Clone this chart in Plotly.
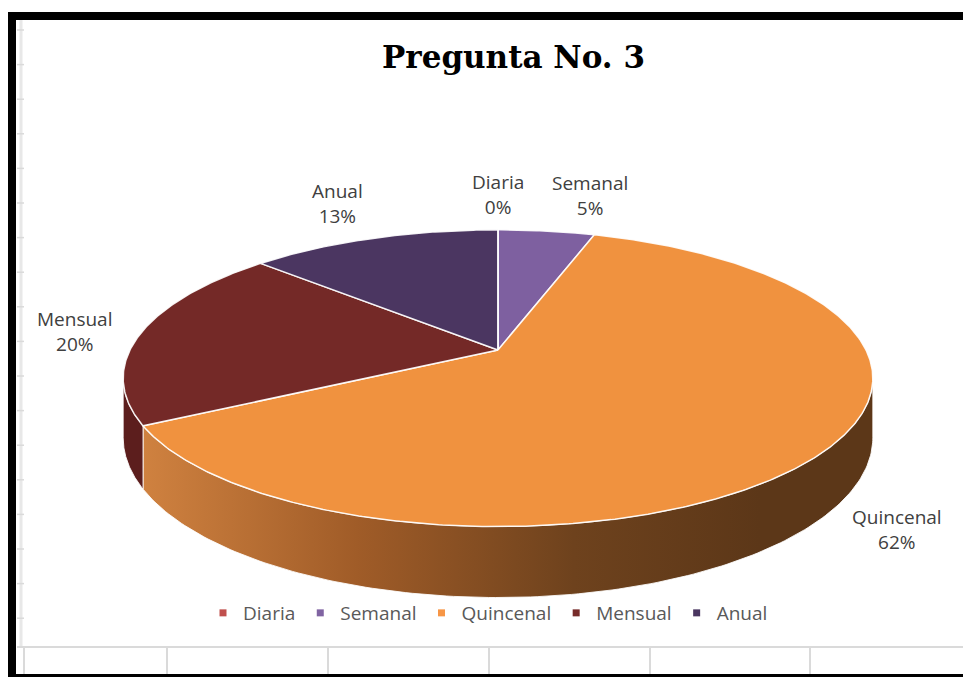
import numpy as np
import plotly.graph_objects as go

# ---------------- data ----------------
title_text = "Pregunta No. 3"
categories = ["Diaria", "Semanal", "Quincenal", "Mensual", "Anual"]
percent = [0, 5, 62, 20, 13]

# ---------------- styles ----------------
top_colors = ["#C0504D", "#7E60A0", "#F0923F", "#742927", "#4B3661"]
legend_colors = ["#C0504D", "#8064A2", "#F79646", "#772C2A", "#4A3660"]
wall_colors = ["#8F3B39", "#5E4878", "#B06A30", "#5C1E1D", "#382848"]
wall_gradient = {2: [[0, "#D08240"], [0.35, "#A05C28"], [0.7, "#6E421D"], [1, "#5C3718"]]}

W, H = 963, 677
X0, Y0 = 498, 350          # pie centre (px)
A, B, K, D = 143, 368, 0.19, 57.5   # vertical radius, horizontal radius, perspective, depth


def proj(theta_deg, r=1.0, depth=0.0):
    t = np.radians(theta_deg)
    u = r * np.sin(t)
    v = r * np.cos(t)
    s = 1 + K * v
    return X0 + B * u / s, Y0 - A * v / s + D * depth / s


total = float(sum(percent))
cum = np.concatenate([[0.0], np.cumsum(percent)]) / total * 360.0

fig = go.Figure()

# side walls (visible front part only)
th_r = np.degrees(np.arccos(-K))
th_l = 360.0 - th_r
for i, cat in enumerate(categories):
    a0, a1 = cum[i], cum[i + 1]
    lo, hi = max(a0, th_r), min(a1, th_l)
    if hi <= lo:
        continue
    ts = np.linspace(lo, hi, 160)
    xt, yt = proj(ts)
    xb, yb = proj(ts[::-1], depth=1.0)
    xs = np.concatenate([xt, xb, xt[:1]])
    ys = np.concatenate([yt, yb, yt[:1]])
    kw = dict(fill="toself", fillcolor=wall_colors[i])
    if i in wall_gradient:
        kw = dict(fill="toself",
                  fillgradient=dict(type="horizontal", colorscale=wall_gradient[i],
                                    start=140, stop=760))
    fig.add_trace(go.Scatter(x=xs, y=ys, mode="lines",
                             line=dict(color="rgba(255,255,255,0.85)", width=1),
                             hoverinfo="skip", showlegend=False, **kw))

# top faces
for i, cat in enumerate(categories):
    a0, a1 = cum[i], cum[i + 1]
    if a1 - a0 <= 0:
        continue
    ts = np.linspace(a0, a1, max(int((a1 - a0) * 2), 8))
    xa, ya = proj(ts)
    xs = np.concatenate([[X0], xa, [X0]])
    ys = np.concatenate([[Y0], ya, [Y0]])
    fig.add_trace(go.Scatter(x=xs, y=ys, mode="lines", fill="toself",
                             fillcolor=top_colors[i],
                             line=dict(color="rgba(255,255,255,0.9)", width=1.5),
                             hoverinfo="skip", showlegend=False))

# zero-size slice boundary line (12 o'clock)
xz, yz = proj(np.array([0.0]))
fig.add_trace(go.Scatter(x=[X0, xz[0]], y=[Y0, yz[0]], mode="lines",
                         line=dict(color="white", width=1.5),
                         hoverinfo="skip", showlegend=False))

# legend entries
for i, cat in enumerate(categories):
    fig.add_trace(go.Scatter(x=[None], y=[None], mode="markers", name=cat,
                             marker=dict(symbol="square", size=7, color=legend_colors[i])))

# data labels
annotations = []
for i, cat in enumerate(categories):
    mid = (cum[i] + cum[i + 1]) / 2.0
    t = np.radians(mid)
    u, v = np.sin(t), np.cos(t)
    x, y = proj(np.array([mid]), r=1.08, depth=(1.0 if v < 0 else 0.0))
    xanchor = "center" if abs(u) < 0.1 else ("left" if u > 0 else "right")
    yanchor = "bottom" if v > 0.5 else ("top" if v < -0.8 else "middle")
    annotations.append(dict(x=float(x[0]), y=float(y[0]), xref="x", yref="y",
                            text=f"{cat}<br>{percent[i]}%", showarrow=False,
                            xanchor=xanchor, yanchor=yanchor, align="center",
                            font=dict(family="Open Sans", size=19, color="#404040")))

# sheet frame / grid decorations
shapes = []
grid = "#DADADA"
shapes.append(dict(type="line", x0=21, x1=21, y0=20, y1=647, xref="x", yref="y",
                   line=dict(color="#E8E8E8", width=3)))
for yy in np.arange(30, 647, 34.6):
    shapes.append(dict(type="line", x0=17, x1=24, y0=yy, y1=yy, xref="x", yref="y",
                       line=dict(color=grid, width=1.5)))
shapes.append(dict(type="line", x0=17, x1=W, y0=647, y1=647, xref="x", yref="y",
                   line=dict(color=grid, width=2)))
for xx in [24, 167, 328, 489, 650, 810]:
    shapes.append(dict(type="line", x0=xx, x1=xx, y0=647, y1=675, xref="x", yref="y",
                       line=dict(color=grid, width=2)))
shapes.append(dict(type="rect", x0=8, x1=16, y0=12, y1=H, xref="x", yref="y",
                   fillcolor="black", line=dict(width=0)))
shapes.append(dict(type="rect", x0=8, x1=W, y0=12, y1=20, xref="x", yref="y",
                   fillcolor="black", line=dict(width=0)))
shapes.append(dict(type="rect", x0=8, x1=W, y0=674, y1=H, xref="x", yref="y",
                   fillcolor="black", line=dict(width=0)))

fig.update_layout(
    width=W, height=H,
    margin=dict(l=0, r=0, t=0, b=0),
    paper_bgcolor="white", plot_bgcolor="white",
    xaxis=dict(range=[0, W], visible=False, fixedrange=True),
    yaxis=dict(range=[H, 0], visible=False, fixedrange=True),
    title=dict(text=title_text, x=513.5 / W, xanchor="center", y=1 - 57 / H, yanchor="middle",
               font=dict(family="DejaVu Serif", size=31, color="black", weight="bold")),
    legend=dict(orientation="h", x=488 / W, xanchor="center", y=1 - 613 / H, yanchor="middle",
                font=dict(family="Open Sans", size=19, color="#595959"),
                itemwidth=30, bgcolor="rgba(0,0,0,0)", traceorder="normal"),
    annotations=annotations,
    shapes=shapes,
    showlegend=True,
)

fig.write_html("out.html")
